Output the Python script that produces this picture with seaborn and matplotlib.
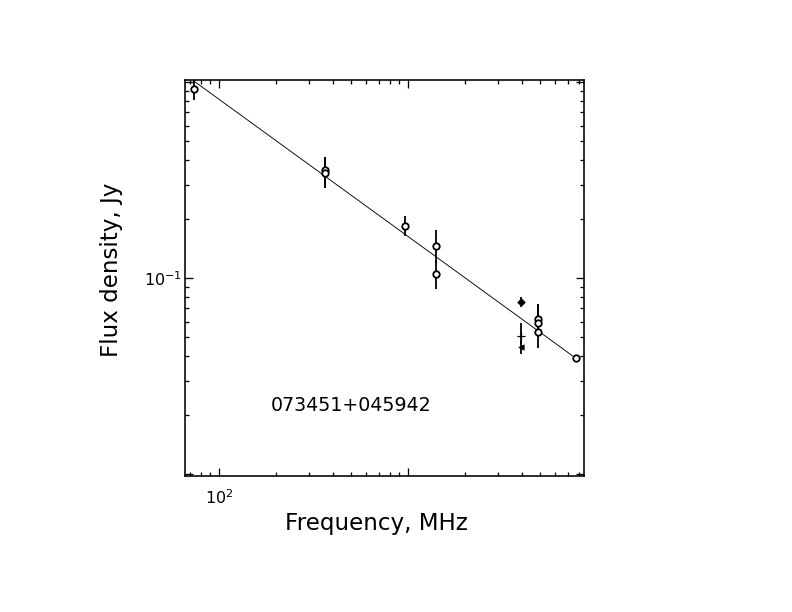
import matplotlib
matplotlib.use('Agg')
import matplotlib.pyplot as plt
import numpy as np
import pandas as pd
import seaborn as sns
from matplotlib.ticker import NullFormatter

freq_mhz = [74, 365, 365, 960, 1400, 1400, 3950, 3950, 3950, 4850, 4850, 4850, 7700]
flux_jy = [0.92, 0.356, 0.344, 0.184, 0.146, 0.105, 0.0757, 0.0508, 0.0443,
           0.0618, 0.0592, 0.053, 0.0389]
flux_lo = [0.81, 0.288, 0.288, 0.164, 0.12, 0.088, 0.0711, 0.046, 0.0408,
           0.050, 0.050, 0.0439, 0.0380]
flux_hi = [1.02, 0.414, 0.414, 0.207, 0.176, 0.122, 0.0803, 0.0587, 0.048,
           0.0737, 0.0737, 0.062, 0.0398]
marker_kind = ['o', 'o', 'o', 'o', 'o', 'o', 'D', '+', '<', 'o', 'o', 'o', 'o']

# power-law fit S = S_1GHz * (f / 1000 MHz) ** alpha
fit_alpha = -0.70
fit_s1ghz = 0.163
source_name = '073451+045942'

data = pd.DataFrame(dict(freq=freq_mhz, flux=flux_jy, lo=flux_lo, hi=flux_hi,
                         kind=marker_kind))

sns.set_style('ticks')
plt.rcParams['font.family'] = ['DejaVu Sans']
plt.rcParams['text.color'] = 'black'
plt.rcParams['axes.labelcolor'] = 'black'

fig = plt.figure(figsize=(11, 8.5), dpi=72)
ax = fig.add_axes([0.2336, 0.2222, 0.5038, 0.647])
ax.set_xscale('log')
ax.set_yscale('log')

# error bars
ax.vlines(data['freq'], data['lo'], data['hi'], color='black', linewidth=1.8)

# fitted line across the data range
fit_f = np.array([data['freq'].min(), data['freq'].max()])
fit_s = fit_s1ghz * (fit_f / 1000.0) ** fit_alpha
sns.lineplot(x=fit_f, y=fit_s, ax=ax, color='black', linewidth=0.9)

# markers, one call per marker type
for kind, group in data.groupby('kind'):
    if kind == 'o':
        sns.scatterplot(x='freq', y='flux', data=group, ax=ax, marker='o', s=42,
                        facecolors='white', edgecolor='black', linewidth=1.8, zorder=3)
    elif kind == '+':
        sns.scatterplot(x='freq', y='flux', data=group, ax=ax, marker='+', s=60,
                        color='black', linewidth=1.2, zorder=3)
    else:
        sns.scatterplot(x='freq', y='flux', data=group, ax=ax, marker=kind, s=28,
                        color='black', edgecolor='black', linewidth=0.8, zorder=3)

ax.set_xlim(66.1, 8530)
ax.set_ylim(0.00977, 1.024)

ax.set_xticks([100, 1000], [r'$10^{2}$', ''])
ax.set_yticks([0.01, 0.1, 1.0], ['', r'$10^{-1}$', ''])
ax.xaxis.set_minor_formatter(NullFormatter())
ax.yaxis.set_minor_formatter(NullFormatter())
ax.tick_params(which='both', direction='in', top=True, right=True, width=1.3,
               colors='black', labelsize=16)
ax.tick_params(which='major', length=8)
ax.tick_params(which='minor', length=4)
ax.tick_params(axis='x', which='major', pad=12)
ax.tick_params(axis='y', which='major', pad=3)
for spine in ax.spines.values():
    spine.set_linewidth(1.6)
    spine.set_color('black')

ax.set_xlabel('Frequency, MHz', fontsize=23)
ax.set_ylabel('Flux density, Jy', fontsize=23)
ax.xaxis.set_label_coords(0.481, -0.09)
ax.yaxis.set_label_coords(-0.155, 0.52)

ax.text(0.416, 0.179, source_name, transform=ax.transAxes, ha='center',
        va='center', fontsize=19)

fig.savefig('out.png', dpi=72)
